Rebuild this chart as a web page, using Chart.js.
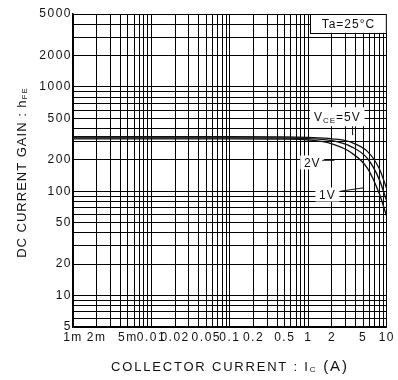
<!DOCTYPE html>
<html>
<head>
<meta charset="utf-8">
<script src="https://cdn.jsdelivr.net/npm/chart.js@4.4.1/dist/chart.umd.min.js"></script>
<style>
  html, body { margin: 0; padding: 0; background: #fff; }
  canvas { display: block; }
</style>
</head>
<body>
<canvas id="hfeChart" width="398" height="380"></canvas>
<script>
// collector current (A) and DC current gain
const currents = [0.001, 0.01, 0.1, 0.5, 1, 2, 3.5, 5.7, 8, 10];
const hfe5V = [333, 333, 333, 332, 328, 318, 295, 240, 165, 105];
const hfe2V = [325, 325, 325, 324, 320, 305, 268, 205, 130, 80];
const hfe1V = [318, 318, 318, 316, 310, 285, 235, 165, 95, 57];

const xTickValues = [0.001, 0.002, 0.005, 0.01, 0.02, 0.05, 0.1, 0.2, 0.5, 1, 2, 5, 10];
const xTickLabels = ['1m', '2m', '5m', '0.01', '0.02', '0.05', '0.1', '0.2', '0.5', '1', '2', '5', '10'];
const yTickValues = [5, 10, 20, 50, 100, 200, 500, 1000, 2000, 5000];
const yTickLabels = ['5', '10', '20', '50', '100', '200', '500', '1000', '2000', '5000'];

const FONT = "'Liberation Sans', Arial, sans-serif";
const INK = '#111';

function pts(ys) {
    return currents.map((c, i) => ({ x: c, y: ys[i] }));
}

// 1..9 per decade, for the grid
function logGrid(min, max) {
    const out = [];
    for (let e = Math.floor(Math.log10(min)); e <= Math.ceil(Math.log10(max)); e++) {
        for (let m = 1; m < 10; m++) {
            const v = parseFloat((m * Math.pow(10, e)).toPrecision(3));
            if (v >= min * 0.999 && v <= max * 1.001) out.push({ value: v });
        }
    }
    return out;
}

function labelFor(values, labels) {
    return v => {
        const i = values.findIndex(t => Math.abs(v / t - 1) < 1e-6);
        return i >= 0 ? labels[i] : '';
    };
}

// text with subscript pieces, drawn centered at 0,0
function drawParts(ctx, parts) {
    let total = 0;
    parts.forEach(p => {
        ctx.font = p.size + 'px ' + FONT;
        p.w = ctx.measureText(p.t).width;
        total += p.w;
    });
    let x = -total / 2;
    parts.forEach(p => {
        ctx.font = p.size + 'px ' + FONT;
        ctx.fillText(p.t, x, p.dy || 0);
        x += p.w;
    });
}

const spacing = {
    id: 'spacing',
    beforeUpdate(chart) { chart.ctx.letterSpacing = '1.5px'; },
    beforeDraw(chart) { chart.ctx.letterSpacing = '1.5px'; }
};

const notes = {
    id: 'notes',
    afterDraw(chart) {
        const ctx = chart.ctx;
        const xs = chart.scales.x, ys = chart.scales.y, area = chart.chartArea;
        ctx.save();
        ctx.fillStyle = INK;
        ctx.textBaseline = 'middle';
        ctx.textAlign = 'left';

        // axis titles
        ctx.save();
        ctx.letterSpacing = '1px';
        ctx.translate(22, (area.top + area.bottom) / 2 + 2);
        ctx.rotate(-Math.PI / 2);
        drawParts(ctx, [
            { t: 'DC CURRENT GAIN : h', size: 13 },
            { t: 'FE', size: 8, dy: 3 }
        ]);
        ctx.restore();

        ctx.save();
        ctx.letterSpacing = '1.8px';
        ctx.translate((area.left + area.right) / 2, 367);
        drawParts(ctx, [
            { t: 'COLLECTOR CURRENT : I', size: 13 },
            { t: 'C', size: 8, dy: 3 },
            { t: ' (A)', size: 15 }
        ]);
        ctx.restore();

        // Ta box
        const tl = xs.getPixelForValue(1.05), tb = ys.getPixelForValue(3300);
        ctx.fillStyle = '#fff';
        ctx.fillRect(tl, area.top, area.right - tl, tb - area.top);
        ctx.strokeStyle = '#000';
        ctx.lineWidth = 1;
        ctx.strokeRect(Math.round(tl) + 0.5, area.top + 0.5, area.right - Math.round(tl) - 1, Math.round(tb - area.top));
        ctx.fillStyle = INK;
        ctx.save();
        ctx.letterSpacing = '1px';
        ctx.translate((tl + area.right) / 2, (area.top + tb) / 2 + 1);
        drawParts(ctx, [{ t: 'Ta=25°C', size: 12 }]);
        ctx.restore();

        // VCE=5V label
        const vl = xs.getPixelForValue(1.05), vr = xs.getPixelForValue(5.2);
        const vt = ys.getPixelForValue(640), vb = ys.getPixelForValue(420);
        ctx.fillStyle = '#fff';
        ctx.fillRect(vl, vt, vr - vl, vb - vt);
        ctx.fillStyle = INK;
        ctx.save();
        ctx.letterSpacing = '1px';
        ctx.translate((vl + vr) / 2, (vt + vb) / 2 + 1);
        drawParts(ctx, [
            { t: 'V', size: 12 },
            { t: 'CE', size: 8, dy: 3 },
            { t: '=5V', size: 12 }
        ]);
        ctx.restore();
        const lx = xs.getPixelForValue(3.66);
        ctx.strokeStyle = '#111';
        ctx.beginPath();
        ctx.moveTo(lx, vb);
        ctx.lineTo(lx, ys.getPixelForValue(345));
        ctx.stroke();

        // 2V and 1V labels with leaders
        [
            { t: '2V', x: 1.12, y: 189, from: [1.5, 198], to: [2.15, 198] },
            { t: '1V', x: 1.75, y: 93, from: [2.55, 100], to: [5.1, 108] }
        ].forEach(l => {
            const cx = xs.getPixelForValue(l.x), cy = ys.getPixelForValue(l.y);
            ctx.fillStyle = '#fff';
            ctx.fillRect(cx - 12, cy - 7, 24, 14);
            ctx.fillStyle = INK;
            ctx.save();
            ctx.letterSpacing = '1px';
            ctx.translate(cx, cy + 1);
            drawParts(ctx, [{ t: l.t, size: 12 }]);
            ctx.restore();
            ctx.beginPath();
            ctx.moveTo(xs.getPixelForValue(l.from[0]), ys.getPixelForValue(l.from[1]));
            ctx.lineTo(xs.getPixelForValue(l.to[0]), ys.getPixelForValue(l.to[1]));
            ctx.stroke();
        });
        ctx.restore();
    }
};

const lineStyle = {
    borderColor: '#111',
    borderWidth: 1.3,
    pointRadius: 0,
    fill: false,
    showLine: true,
    cubicInterpolationMode: 'monotone'
};

new Chart(document.getElementById('hfeChart'), {
    type: 'scatter',
    data: {
        datasets: [
            { label: '5V', data: pts(hfe5V), ...lineStyle },
            { label: '2V', data: pts(hfe2V), ...lineStyle },
            { label: '1V', data: pts(hfe1V), ...lineStyle }
        ]
    },
    options: {
        responsive: false,
        animation: false,
        layout: { padding: { top: 14, right: 11, left: 0, bottom: 0 } },
        plugins: { legend: { display: false }, tooltip: { enabled: false } },
        scales: {
            x: {
                type: 'logarithmic',
                min: 0.001,
                max: 10,
                afterBuildTicks: s => { s.ticks = logGrid(0.001, 10); },
                afterFit: s => { s.height = 53; },
                grid: { color: '#000', lineWidth: 1, drawTicks: false },
                border: { color: '#000', width: 1.5 },
                ticks: {
                    autoSkip: false,
                    maxRotation: 0,
                    padding: 3,
                    color: INK,
                    font: { family: FONT, size: 12 },
                    callback: labelFor(xTickValues, xTickLabels)
                }
            },
            y: {
                type: 'logarithmic',
                min: 5,
                max: 5000,
                afterBuildTicks: s => { s.ticks = logGrid(5, 5000); },
                afterFit: s => { s.width = 73; },
                grid: { color: '#000', lineWidth: 1, drawTicks: false },
                border: { color: '#000', width: 1.5 },
                ticks: {
                    autoSkip: false,
                    padding: 1,
                    color: INK,
                    font: { family: FONT, size: 12 },
                    callback: labelFor(yTickValues, yTickLabels)
                }
            }
        }
    },
    plugins: [spacing, notes]
});
</script>
</body>
</html>
